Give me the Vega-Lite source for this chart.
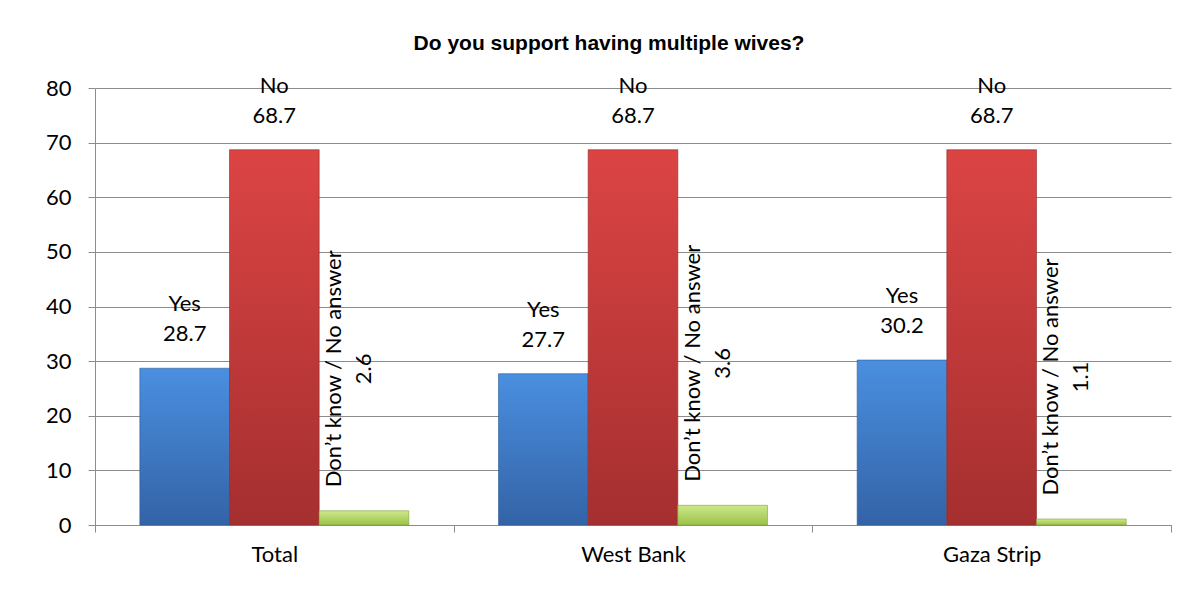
{
  "$schema": "https://vega.github.io/schema/vega-lite/v6.json",
  "autosize": {"type": "none"},
  "width": 1076,
  "height": 437,
  "padding": {"left": 95, "top": 88, "right": 7, "bottom": 66},
  "background": "white",
  "title": {
    "text": "Do you support having multiple wives?",
    "font": "Liberation Sans",
    "fontWeight": "bold",
    "fontSize": 21,
    "color": "#000000",
    "anchor": "middle",
    "frame": "group",
    "dx": -24,
    "offset": 21
  },
  "config": {
    "view": {"stroke": null},
    "text": {"font": "Lato", "fontSize": 22, "color": "#000000"}
  },
  "data": {
    "values": [
      {"region": "Total", "answer": "Yes", "label": "Yes", "value": 28.7},
      {"region": "Total", "answer": "No", "label": "No", "value": 68.7},
      {"region": "Total", "answer": "DK", "label": "Don’t know / No answer", "value": 2.6},
      {"region": "West Bank", "answer": "Yes", "label": "Yes", "value": 27.7},
      {"region": "West Bank", "answer": "No", "label": "No", "value": 68.7},
      {"region": "West Bank", "answer": "DK", "label": "Don’t know / No answer", "value": 3.6},
      {"region": "Gaza Strip", "answer": "Yes", "label": "Yes", "value": 30.2},
      {"region": "Gaza Strip", "answer": "No", "label": "No", "value": 68.7},
      {"region": "Gaza Strip", "answer": "DK", "label": "Don’t know / No answer", "value": 1.1}
    ]
  },
  "encoding": {
    "x": {
      "field": "region",
      "type": "nominal",
      "scale": {"domain": ["Total", "West Bank", "Gaza Strip"], "paddingInner": 0, "paddingOuter": 0},
      "axis": {
        "title": null,
        "labelAngle": 0,
        "tickBand": "extent",
        "tickSize": 7,
        "tickColor": "#8c8c8c",
        "domainColor": "#8c8c8c",
        "labelFont": "Lato",
        "labelFontSize": 22,
        "labelColor": "#000000",
        "labelPadding": 12,
        "grid": false
      }
    },
    "xOffset": {
      "field": "answer",
      "type": "nominal",
      "scale": {"domain": ["Yes", "No", "DK"], "paddingInner": 0, "paddingOuter": 0.5}
    },
    "y": {
      "field": "value",
      "type": "quantitative",
      "scale": {"domain": [0, 80]},
      "axis": {
        "title": null,
        "values": [0, 10, 20, 30, 40, 50, 60, 70, 80],
        "grid": true,
        "gridColor": "#8c8c8c",
        "gridOpacity": 1,
        "domainColor": "#8c8c8c",
        "tickColor": "#8c8c8c",
        "tickSize": 7,
        "labelFont": "Lato",
        "labelFontSize": 22,
        "labelColor": "#000000",
        "labelPadding": 17
      }
    }
  },
  "layer": [
    {
      "transform": [{"filter": "datum.answer === 'Yes'"}],
      "mark": {
        "type": "bar",
        "fill": {"gradient": "linear", "x1": 0, "y1": 0, "x2": 0, "y2": 1,
          "stops": [{"offset": 0, "color": "#4a8fe0"}, {"offset": 1, "color": "#3363a6"}]},
        "stroke": "#2c5a96",
        "strokeWidth": 0.6
      }
    },
    {
      "transform": [{"filter": "datum.answer === 'No'"}],
      "mark": {
        "type": "bar",
        "fill": {"gradient": "linear", "x1": 0, "y1": 0, "x2": 0, "y2": 1,
          "stops": [{"offset": 0, "color": "#dc4444"}, {"offset": 1, "color": "#a52f2f"}]},
        "stroke": "#8f2828",
        "strokeWidth": 0.6
      }
    },
    {
      "transform": [{"filter": "datum.answer === 'DK'"}],
      "mark": {
        "type": "bar",
        "fill": {"gradient": "linear", "x1": 0, "y1": 0, "x2": 0, "y2": 1,
          "stops": [{"offset": 0, "color": "#cde88a"}, {"offset": 1, "color": "#9bc24a"}]},
        "stroke": "#7fa33a",
        "strokeWidth": 0.6
      }
    },
    {
      "transform": [{"filter": "datum.answer !== 'DK'"}],
      "mark": {"type": "text", "align": "center", "baseline": "alphabetic", "dy": -57},
      "encoding": {"text": {"field": "label"}}
    },
    {
      "transform": [{"filter": "datum.answer !== 'DK'"}],
      "mark": {"type": "text", "align": "center", "baseline": "alphabetic", "dy": -27},
      "encoding": {"text": {"field": "value", "type": "quantitative", "format": ".1f"}}
    },
    {
      "transform": [{"filter": "datum.answer === 'DK'"}],
      "mark": {"type": "text", "angle": 270, "align": "center", "baseline": "middle", "dx": 142, "dy": -30},
      "encoding": {"text": {"field": "label"}}
    },
    {
      "transform": [{"filter": "datum.answer === 'DK'"}],
      "mark": {"type": "text", "angle": 270, "align": "center", "baseline": "middle", "dx": 142, "dy": 0},
      "encoding": {"text": {"field": "value", "type": "quantitative", "format": ".1f"}}
    }
  ]
}
